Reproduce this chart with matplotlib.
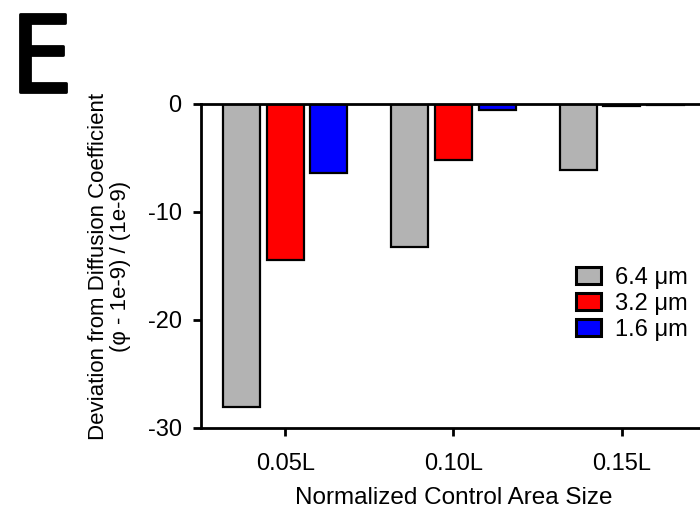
import numpy as np
import matplotlib
matplotlib.use('Agg')
import matplotlib.pyplot as plt
import matplotlib.patheffects as pe
from matplotlib import rcParams

config = {
    "font.family": ['Liberation Sans', 'DejaVu Sans'],
    "font.size": 12,
}
rcParams.update(config)

categories = ['0.05L', '0.10L', '0.15L']
series_names = ['6.4 \u03bcm', '3.2 \u03bcm', '1.6 \u03bcm']
series_colors = ['#b3b3b3', '#ff0000', '#0000ff']
values_64 = [-28.1, -13.2, -6.1]
values_32 = [-14.4, -5.2, -0.2]
values_16 = [-6.4, -0.6, -0.05]
yticks = [0, -10, -20, -30]


def main():
    fig = plt.figure(figsize=(7, 5.12), dpi=100)
    ax = fig.add_axes([201 / 700, 84 / 512, 505 / 700, 324 / 512])

    x = np.arange(len(categories))
    width = 0.22
    step = 0.26
    for i, (vals, name, col) in enumerate(zip([values_64, values_32, values_16],
                                              series_names, series_colors)):
        ax.bar(x + (i - 1) * step, vals, width, color=col, edgecolor='black',
               linewidth=1.6, label=name, zorder=2)

    ax.set_xlim(-0.5, 2.5)
    ax.set_ylim(-30, 0)
    ax.set_xticks(x)
    ax.set_xticklabels(categories, fontsize=17)
    ax.set_yticks(yticks)
    ax.set_yticklabels([str(t) for t in yticks], fontsize=17)
    ax.tick_params(direction='out', length=6, width=2)
    ax.tick_params(axis='x', pad=12)
    ax.tick_params(axis='y', pad=8)

    for s in ['left', 'bottom', 'top']:
        ax.spines[s].set_linewidth(2)
    ax.spines['right'].set_visible(False)

    ax.set_xlabel('Normalized Control Area Size', fontsize=17.5, labelpad=9)
    ax.set_ylabel('Deviation from Diffusion Coefficient\n(\u03c6 - 1e-9) / (1e-9)',
                  fontsize=16, labelpad=12, linespacing=1.05)

    leg = ax.legend(loc='center left', bbox_to_anchor=(0.72, 0.383), frameon=False,
                    fontsize=17, handlelength=1.05, handleheight=0.72,
                    labelspacing=0.17, handletextpad=0.6, borderpad=0)
    for h in leg.legend_handles:
        h.set_linewidth(2.2)

    # panel letter, thickened a bit with a stroke
    fig.text(11 / 700, 1 - 92 / 512, 'E', fontsize=77, fontweight='normal',
             family='DejaVu Sans', fontstretch='condensed',
             ha='left', va='baseline',
             path_effects=[pe.withStroke(linewidth=2, foreground='black')])

    fig.savefig('out.png', dpi=100)


if __name__ == '__main__':
    main()
